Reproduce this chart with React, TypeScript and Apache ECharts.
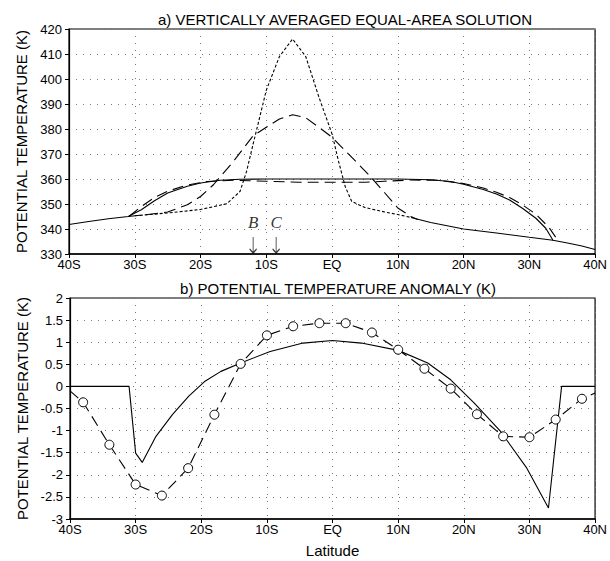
import React, { useEffect, useRef } from "react";
import * as echarts from "echarts";

// ---- Panel a: vertically averaged equal-area solution (K) ----
const solidEqualArea: [number, number][] = [
  [-40, 341.8], [-37, 343], [-34, 344.1], [-31, 345], [-29, 347.7], [-27, 351.3], [-25, 354.4],
  [-22, 357.1], [-20, 358.4], [-17, 359.5], [-14, 359.9], [-10, 360], [0, 360], [10, 360],
  [15, 359.7], [18, 359], [20, 357.9], [23, 355.8], [25, 354], [27, 351.6], [29, 348.2],
  [31, 344.3], [32.5, 340.3], [33.6, 335.5], [36, 334.3], [38, 333.2], [40, 331.8],
];
const background: [number, number][] = [
  [12, 344.6], [15, 342.6], [20, 340], [25, 338.4], [30, 336.7], [33.6, 335.5],
];
const longDashFlat: [number, number][] = [
  [-30.8, 345.2], [-29, 349], [-27, 352.6], [-25, 355.1], [-22, 357.6], [-19, 359],
  [-15, 359.5], [-10, 359.1], [-5, 358.7], [0, 358.7], [5, 358.7], [8, 359.1], [12, 359.6],
  [16, 359.5], [20, 358.2], [23, 356.4], [25, 354.7], [27, 352.6], [29, 349.6], [31, 345.9],
  [33, 340.6], [34.4, 335.2],
];
const longDashPeak: [number, number][] = [
  [-31, 345], [-28, 345.8], [-25, 346.8], [-22, 349.7], [-20, 353], [-18, 357.8], [-15, 367],
  [-12, 377.3], [-10, 380.7], [-8, 384], [-6, 385.7], [-4, 384.5], [-2, 380.7], [0, 376.7],
  [2, 371.3], [4, 366], [6, 360.5], [8, 354.5], [10, 348.4], [12, 345], [13, 343.8],
];
const shortDashPeak: [number, number][] = [
  [-30, 345.3], [-25, 346.4], [-20, 347.8], [-16, 350.1], [-14, 355], [-13, 363], [-12, 374],
  [-11, 384.7], [-10, 395.5], [-8, 409], [-6, 416], [-4, 409], [-2, 392.8], [0, 378],
  [1, 367], [2, 357], [3, 351], [5, 348.6], [8, 346.8], [10, 345.8], [12, 344.6],
];
const markers: [number, number, string][] = [
  [-12, 330, "B"], [-8.5, 330, "C"],
];

// ---- Panel b: potential temperature anomaly (K) ----
const anomalySolid: [number, number][] = [
  [-40, 0], [-31, 0], [-30, -1.51], [-29, -1.72], [-26.9, -1.13], [-24.4, -0.64], [-21.9, -0.22],
  [-19.5, 0.11], [-17, 0.34], [-14, 0.53], [-9.5, 0.79], [-4.5, 0.98], [0, 1.04], [4.4, 0.98],
  [10, 0.815], [14.5, 0.53], [18, 0.15], [21.6, -0.38], [25.6, -1.02], [29.6, -1.85],
  [32.9, -2.75], [34.9, 0], [40, 0],
];
const circleLats = [-38, -34, -30, -26, -22, -18, -14, -10, -6, -2, 2, 6, 10, 14, 18, 22, 26, 30, 34, 38];
const circleVals = [-0.36, -1.32, -2.22, -2.47, -1.85, -0.64, 0.51, 1.155, 1.36, 1.43, 1.43, 1.22, 0.83, 0.4, -0.05, -0.63, -1.13, -1.15, -0.75, -0.28];
const circleEnds: [number, number][] = [[-40, -0.1], [40, -0.15]];

const latLabel = (v: number) => (v < 0 ? `${-v}S` : v === 0 ? "EQ" : `${v}N`);

const FONT = "Liberation Sans";

export default function App() {
  const ref = useRef<HTMLDivElement>(null);
  useEffect(() => {
    const chart = echarts.init(ref.current!, undefined, { renderer: "svg" });
    const gridLine = { show: true, lineStyle: { type: [1, 6] as any, color: "#777", width: 1 } };
    const axisLabel = { color: "#000", fontFamily: FONT, fontSize: 13 };
    const xAxisBase = (gridIndex: number) => ({
      type: "value" as const,
      gridIndex,
      min: -40,
      max: 40,
      interval: 10,
      axisLine: { show: true, onZero: false, lineStyle: { color: "#000", width: 1.5 } },
      axisTick: { show: true, length: 4, lineStyle: { color: "#000" } },
      axisLabel: { ...axisLabel, margin: 4, formatter: latLabel },
      splitLine: gridLine,
    });
    const yAxisBase = (gridIndex: number, min: number, max: number, interval: number) => ({
      type: "value" as const,
      gridIndex,
      min,
      max,
      interval,
      axisLine: { show: true, onZero: false, lineStyle: { color: "#000", width: 1.2 } },
      axisTick: { show: true, length: 4, lineStyle: { color: "#000" } },
      axisLabel: { ...axisLabel, margin: 7 },
      splitLine: gridLine,
      name: "POTENTIAL TEMPERATURE (K)",
      nameLocation: "middle" as const,
      nameGap: 38,
      nameTextStyle: { fontFamily: FONT, fontSize: 15, color: "#000" },
    });
    const circleData: any[] = [
      { value: circleEnds[0], symbol: "none" },
      ...circleLats.map((lat, i) => ({ value: [lat, circleVals[i]] })),
      { value: circleEnds[1], symbol: "none" },
    ];
    const lineS = (data: [number, number][], type: any, width = 1.1) => ({
      type: "line" as const,
      xAxisIndex: 0,
      yAxisIndex: 0,
      data,
      symbol: "none",
      lineStyle: { color: "#000", width, type },
      z: 3,
    });
    chart.setOption({
      animation: false,
      backgroundColor: "#fff",
      title: [
        {
          text: "a) VERTICALLY AVERAGED EQUAL-AREA SOLUTION",
          left: 340,
          top: 7,
          textAlign: "center",
          textStyle: { fontFamily: FONT, fontSize: 15, fontWeight: "normal", color: "#000" },
        },
        {
          text: "b) POTENTIAL TEMPERATURE ANOMALY (K)",
          left: 333,
          top: 276,
          textAlign: "center",
          textStyle: { fontFamily: FONT, fontSize: 15, fontWeight: "normal", color: "#000" },
        },
      ],
      grid: [
        { left: 69, top: 29, width: 533, height: 225, show: true, borderColor: "#000", borderWidth: 1.2 },
        { left: 70, top: 298, width: 532, height: 221, show: true, borderColor: "#000", borderWidth: 1.2 },
      ],
      xAxis: [
        xAxisBase(0),
        {
          ...xAxisBase(1),
          name: "Latitude",
          nameLocation: "middle",
          nameGap: 24,
          nameTextStyle: { fontFamily: FONT, fontSize: 15, color: "#000" },
        },
      ],
      yAxis: [yAxisBase(0, 330, 420, 10), yAxisBase(1, -3, 2, 0.5)],
      series: [
        lineS(solidEqualArea, "solid"),
        lineS(background, "solid"),
        lineS(longDashFlat, [11, 6]),
        lineS(longDashPeak, [12, 6]),
        lineS(shortDashPeak, [3, 2]),
        {
          type: "scatter",
          xAxisIndex: 0,
          yAxisIndex: 0,
          data: markers.map((m) => ({ value: [m[0], m[1]], name: m[2] })),
          symbol: "path://M5,0 L5,16 M2,12 L5,16 L8,12",
          symbolSize: [7, 16],
          symbolOffset: [0, -9],
          itemStyle: { color: "none", borderColor: "#000", borderWidth: 1.2 },
          label: {
            show: true,
            position: "top",
            distance: 2,
            formatter: (p: any) => p.name,
            fontFamily: "Liberation Serif",
            fontStyle: "italic",
            fontSize: 17,
            color: "#000",
          },
          clip: false,
          z: 5,
        },
        {
          type: "line",
          xAxisIndex: 1,
          yAxisIndex: 1,
          data: anomalySolid,
          symbol: "none",
          lineStyle: { color: "#000", width: 1.1 },
          z: 3,
        },
        {
          type: "line",
          xAxisIndex: 1,
          yAxisIndex: 1,
          data: circleData,
          symbol: "circle",
          symbolSize: 9,
          showAllSymbol: true,
          itemStyle: { color: "#fff", borderColor: "#000", borderWidth: 1 },
          lineStyle: { color: "#000", width: 1.1, type: [11, 6] },
          z: 4,
        },
      ],
    });
    return () => chart.dispose();
  }, []);
  return (
    <div
      ref={ref}
      style={{ position: "fixed", left: 0, top: 0, width: 610, height: 561 }}
    />
  );
}
